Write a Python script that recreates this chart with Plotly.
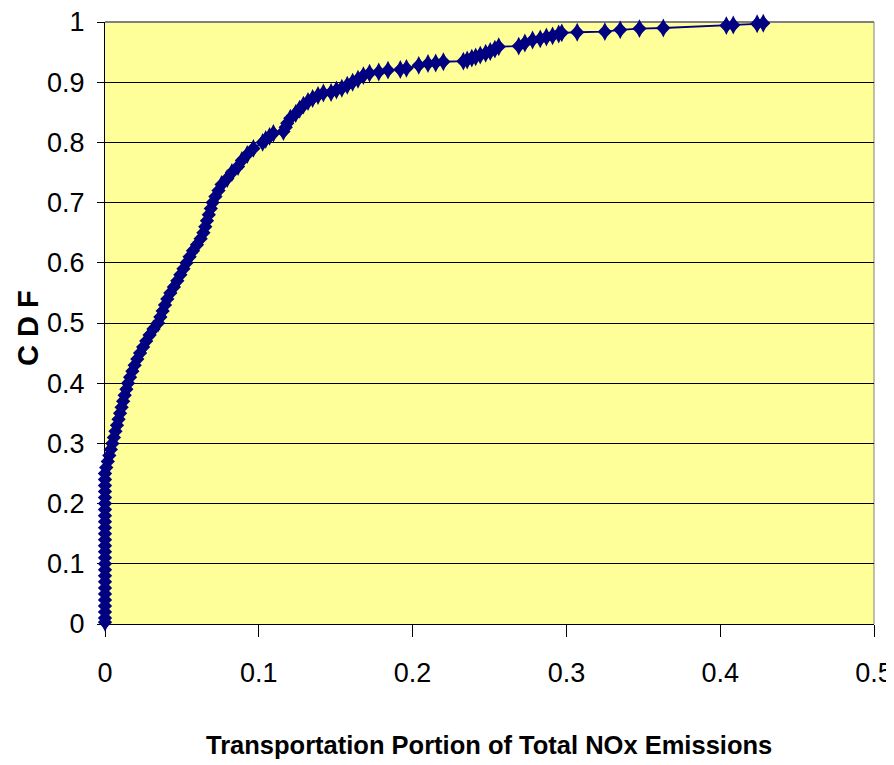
import plotly.graph_objects as go

# Transportation share of total NOx emissions (x) and cumulative probability (y)
zero_x = [0.0] * 26
zero_y = [0.003, 0.01, 0.02, 0.03, 0.04, 0.05, 0.06, 0.07, 0.08, 0.09, 0.10, 0.11, 0.12,
          0.13, 0.14, 0.15, 0.16, 0.17, 0.18, 0.19, 0.20, 0.21, 0.22, 0.23, 0.24, 0.25]

ramp_x = [0.0008, 0.0018, 0.0028, 0.0038, 0.0048, 0.0058, 0.0068, 0.0078, 0.0088, 0.0098,
          0.0108, 0.0118, 0.0128, 0.0139, 0.0150, 0.0163, 0.0178, 0.0193, 0.0210, 0.0228,
          0.0248, 0.0268, 0.0290, 0.0315, 0.0345, 0.0360, 0.0375, 0.0390, 0.0405, 0.0425,
          0.0448, 0.0470, 0.0490, 0.0510, 0.0530, 0.0550, 0.0572, 0.0598, 0.0622, 0.0640,
          0.0652, 0.0663, 0.0675, 0.0688, 0.0700, 0.0718, 0.0738, 0.0758, 0.0795, 0.0825,
          0.0865, 0.0890, 0.0925, 0.0965, 0.1025, 0.1045, 0.1070, 0.1095]
ramp_y = [0.26, 0.27, 0.28, 0.29, 0.30, 0.31, 0.32, 0.33, 0.34, 0.35,
          0.36, 0.37, 0.38, 0.39, 0.40, 0.41, 0.42, 0.43, 0.44, 0.45,
          0.46, 0.47, 0.48, 0.49, 0.50, 0.51, 0.52, 0.53, 0.54, 0.55,
          0.56, 0.57, 0.58, 0.59, 0.60, 0.61, 0.62, 0.63, 0.64, 0.65,
          0.66, 0.67, 0.68, 0.69, 0.70, 0.71, 0.72, 0.73, 0.74, 0.75,
          0.76, 0.77, 0.78, 0.79, 0.80, 0.805, 0.81, 0.815]

upper_x = [0.1160, 0.1175, 0.1185, 0.1205, 0.1240, 0.1265, 0.1290, 0.1320, 0.1350, 0.1385,
           0.1420, 0.1470, 0.1505, 0.1540, 0.1575, 0.1610, 0.1645, 0.1680, 0.1720, 0.1780,
           0.1840, 0.1920, 0.1960, 0.2040, 0.2100, 0.2150, 0.2200, 0.2330, 0.2355, 0.2385,
           0.2410, 0.2440, 0.2475, 0.2505, 0.2535, 0.2560, 0.2690, 0.2730, 0.2780, 0.2830,
           0.2870, 0.2910, 0.2950, 0.2970]
upper_y = [0.818, 0.825, 0.832, 0.840, 0.848, 0.855, 0.862, 0.868, 0.873, 0.878,
           0.882, 0.883, 0.887, 0.890, 0.895, 0.900, 0.905, 0.911, 0.915, 0.917,
           0.920, 0.921, 0.923, 0.928, 0.931, 0.932, 0.934, 0.935, 0.937, 0.940,
           0.942, 0.945, 0.948, 0.951, 0.955, 0.959, 0.960, 0.965, 0.970, 0.972,
           0.975, 0.977, 0.980, 0.982]

tail_x = [0.3070, 0.3250, 0.3350, 0.3475, 0.3630, 0.4040, 0.4085, 0.4240, 0.4280]
tail_y = [0.983, 0.984, 0.987, 0.989, 0.990, 0.994, 0.995, 0.997, 0.998]

x_vals = zero_x + ramp_x + upper_x + tail_x
y_vals = zero_y + ramp_y + upper_y + tail_y

x_ticks = [0, 0.1, 0.2, 0.3, 0.4, 0.5]
y_ticks = [0, 0.1, 0.2, 0.3, 0.4, 0.5, 0.6, 0.7, 0.8, 0.9, 1]

NAVY = "#000080"
FONT = "Liberation Sans, Arial, sans-serif"

fig = go.Figure()
fig.add_trace(go.Scatter(
    x=x_vals, y=y_vals, mode="lines+markers",
    line=dict(color=NAVY, width=1.8),
    marker=dict(symbol="diamond", size=11, color=NAVY, line=dict(width=0)),
    cliponaxis=False, showlegend=False, hoverinfo="skip"))
fig.add_trace(go.Scatter(
    x=x_vals, y=y_vals, mode="markers",
    marker=dict(symbol="diamond-tall", size=13.5, color=NAVY, line=dict(width=0)),
    cliponaxis=False, showlegend=False, hoverinfo="skip"))

# page body adds an 8px offset at top-left, so the figure is 8px smaller than the window
fig.update_layout(
    width=886, height=757,
    margin=dict(l=97, r=20, t=14, b=141),
    paper_bgcolor="white", plot_bgcolor="#FFFF99",
    font=dict(family=FONT, size=27, color="black"),
    xaxis=dict(
        range=[0, 0.5], tickvals=x_ticks, ticktext=[str(v) for v in x_ticks],
        showgrid=False, zeroline=False, showline=True, linecolor="black", linewidth=1,
        ticks="outside", ticklen=12, tickcolor="black", ticklabelstandoff=13,
        ticklabeloverflow="allow",
        layer="below traces", automargin=False,
    ),
    yaxis=dict(
        range=[0, 1], tickvals=y_ticks, ticktext=[str(v) for v in y_ticks],
        showgrid=True, gridcolor="black", gridwidth=1, zeroline=False,
        showline=True, linecolor="black", linewidth=1,
        ticks="outside", ticklen=7, tickcolor="black", ticklabelstandoff=7,
        ticklabeloverflow="allow",
        layer="below traces", automargin=False,
    ),
    shapes=[
        dict(type="line", xref="paper", yref="paper", x0=0, x1=1, y0=1, y1=1,
             line=dict(color="#808080", width=2), layer="below"),
        dict(type="line", xref="paper", yref="paper", x0=1, x1=1, y0=0, y1=1,
             line=dict(color="#808080", width=1), layer="below"),
    ],
    annotations=[
        dict(text="<b>Transportation Portion of Total NOx Emissions</b>",
             xref="paper", yref="paper", x=0.499, y=-0.201, showarrow=False,
             xanchor="center", yanchor="middle", font=dict(family=FONT, size=25.5)),
        dict(text="<b>C D F</b>", textangle=-90,
             xref="paper", yref="paper", x=-0.1, y=0.492, showarrow=False,
             xanchor="center", yanchor="middle", font=dict(family=FONT, size=29)),
    ],
)

fig.write_html("out.html")
